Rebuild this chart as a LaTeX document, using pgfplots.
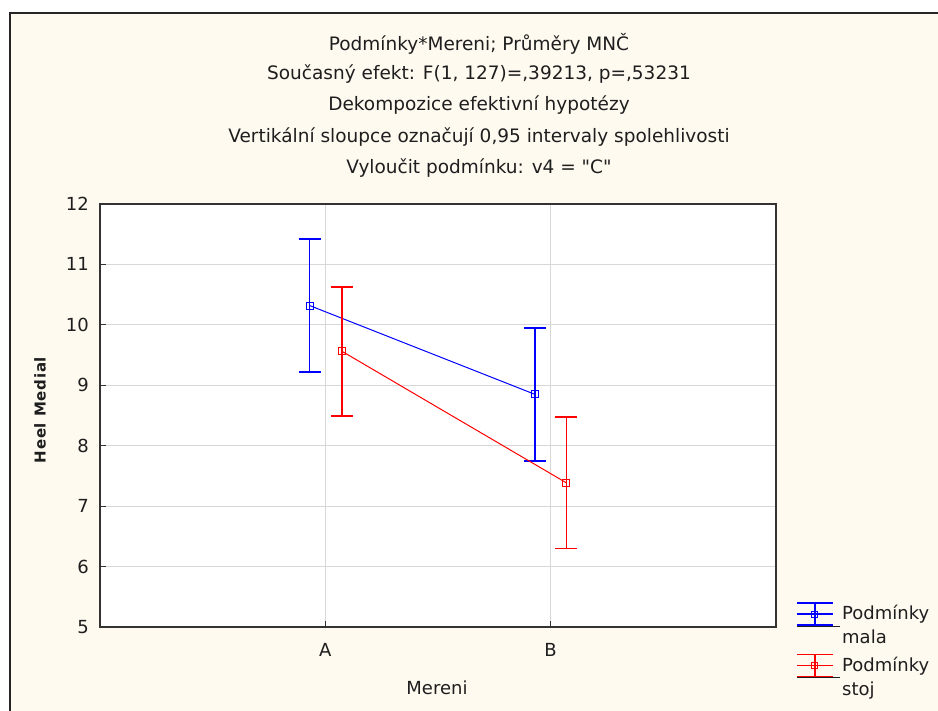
\documentclass[border=0pt]{standalone}
\usepackage{fontspec}
\setmainfont[Ligatures=TeXOff]{DejaVu Sans}
\newfontfamily\ylabfont[LetterSpace=5]{DejaVu Sans}
\usepackage{pgfplots}
\usepackage{pgfplotstable}
\pgfplotsset{compat=1.18}
\definecolor{cream}{RGB}{255,250,240}
\definecolor{gridgray}{RGB}{215,215,215}
\definecolor{txt}{RGB}{30,30,30}
\pgfplotstableread{
x y e
0.93 10.32 1.10
1.93 8.85 1.10
}\mala
\pgfplotstableread{
x y e
1.075 9.56 1.07
2.07 7.385 1.085
}\stoj
\begin{document}
\fontsize{18bp}{24bp}\selectfont
\begin{tikzpicture}
\useasboundingbox (0bp,0bp) rectangle (938bp,711bp);
\fill[white] (0bp,0bp) rectangle (938bp,711bp);
\fill[cream] (10bp,0bp) rectangle (938bp,698bp);
\draw[line width=2bp, black!85] (10bp,0bp) -- (10bp,698bp) -- (938bp,698bp);
\begin{scope}[every node/.style={txt, font=\fontsize{18.5bp}{24bp}\selectfont}]
\node at (479bp,667bp) {Podmínky*Mereni; Průměry MNČ};
\node at (479bp,637bp) {Současný efekt: F(1, 127)=,39213, p=,53231};
\node at (479bp,606bp) {Dekompozice efektivní hypotézy};
\node at (479bp,574bp) {Vertikální sloupce označují 0,95 intervaly spolehlivosti};
\node at (479bp,543bp) {Vyloučit podmínku: v4 = "C"};
\end{scope}
\begin{axis}[at={(100bp,84bp)}, anchor=south west, scale only axis,
  width=676bp, height=423bp,
  xmin=0, xmax=3, ymin=5, ymax=12,
  xtick={1,2}, xticklabels={A,B}, ytick={5,6,...,12},
  /pgf/number format/assume math mode=true,
  grid=major, grid style={gridgray, line width=1.2bp},
  axis line style={line width=1.5bp, black!80},
  tick align=inside, xtick pos=left, ytick pos=left,
  major tick length=6bp, tick style={black!80, line width=1bp},
  axis background/.style={fill=white},
  tick label style={txt},
  xticklabel style={yshift=-10bp},
  yticklabel style={xshift=-5bp},
  xlabel={Mereni}, ylabel={\ylabfont\bfseries\fontsize{15bp}{17bp}\selectfont Heel Medial},
  every axis x label/.style={at={(axis description cs:0.4985,-0.144)}, anchor=center, txt},
  every axis y label/.style={at={(axis description cs:-0.0888,0.513)}, anchor=center, rotate=90, txt},
  legend style={at={(axis description cs:1.025,0.064)}, anchor=north west, draw=none, fill=none,
    cells={anchor=west, align=left, txt}, font=\fontsize{18bp}{24bp}\selectfont,
    row sep=5bp},
  clip=false,
]
\addplot[blue, line width=1bp, mark=square, mark size=3.5bp, mark options={line width=1bp, solid},
  forget plot,
  error bars/.cd, y dir=both, y explicit,
  error bar style={blue, line width=1.8bp},
  error mark options={rotate=90, mark size=11bp, line width=1.8bp, blue}]
  table[x=x, y=y, y error=e]{\mala};
\addplot[red, line width=1bp, mark=square, mark size=3.5bp, mark options={line width=1bp, solid},
  forget plot,
  error bars/.cd, y dir=both, y explicit,
  error bar style={red, line width=1.8bp},
  error mark options={rotate=90, mark size=11bp, line width=1.8bp, red}]
  table[x=x, y=y, y error=e]{\stoj};
\addlegendimage{legend image code/.code={
  \path (0bp,0bp) -- (43bp,0bp);
  \draw[blue, line width=1.8bp] (0bp,23bp)--(36bp,23bp) (0bp,12bp)--(36bp,12bp) (0bp,1bp)--(36bp,1bp) (18bp,1bp)--(18bp,23bp);
  \draw[blue, line width=1bp] (15bp,9bp) rectangle (21bp,15bp);}}
\addlegendentry{Podmínky\\mala}
\addlegendimage{legend image code/.code={
  \path (0bp,0bp) -- (43bp,0bp);
  \draw[red, line width=1.8bp] (0bp,23bp)--(36bp,23bp) (0bp,12bp)--(36bp,12bp) (0bp,1bp)--(36bp,1bp) (18bp,1bp)--(18bp,23bp);
  \draw[red, line width=1bp] (15bp,9bp) rectangle (21bp,15bp);}}
\addlegendentry{Podmínky\\stoj}
\end{axis}
\end{tikzpicture}
\end{document}
